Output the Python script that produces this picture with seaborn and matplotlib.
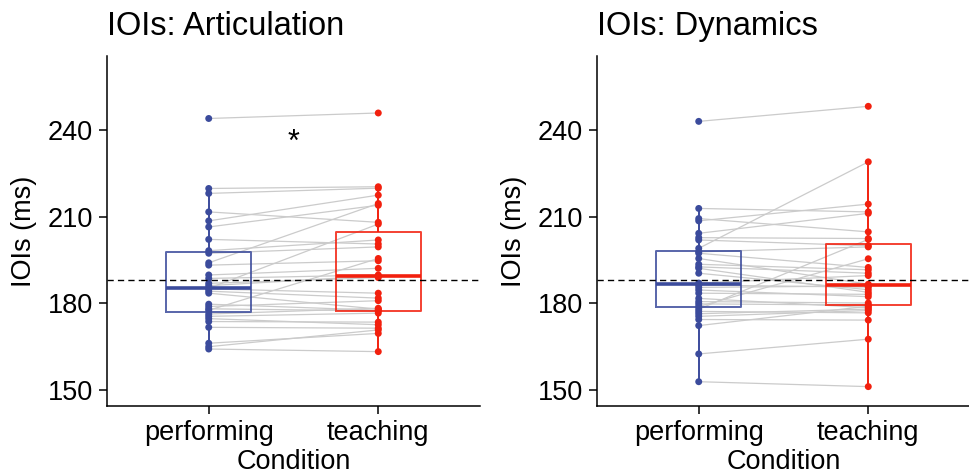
import numpy as np
import pandas as pd
import matplotlib
matplotlib.use("Agg")
import matplotlib.pyplot as plt
import seaborn as sns

# ---------------- data ----------------
conditions = ["performing", "teaching"]

art_performing = [164.2, 165.0, 166.2, 171.7, 173.7, 174.7, 175.5, 176.3, 177.6, 178.1,
                  178.9, 179.7, 183.5, 184.2, 185.0, 185.2, 186.1, 186.9, 188.6, 189.8,
                  193.2, 194.0, 197.3, 198.2, 202.1, 206.4, 208.5, 211.6, 218.0, 219.7, 243.9]
art_teaching = [163.3, 170.8, 169.6, 171.4, 173.5, 172.6, 176.6, 178.3, 195.5, 177.4,
                180.9, 177.6, 178.0, 181.8, 183.5, 207.4, 189.5, 188.9, 189.8, 192.1,
                194.7, 214.5, 199.5, 201.9, 200.5, 213.9, 217.4, 208.0, 219.8, 220.3, 245.8]

dyn_performing = [152.9, 162.5, 172.3, 174.4, 175.5, 176.4, 177.2, 178.0, 178.9, 179.8,
                  180.6, 181.7, 183.5, 184.6, 185.5, 186.3, 187.0, 190.4, 192.1, 192.6,
                  193.5, 195.5, 197.3, 197.8, 199.0, 201.9, 202.7, 204.2, 208.5, 209.3,
                  212.8, 242.9]
dyn_teaching = [151.2, 167.6, 179.0, 174.2, 177.5, 178.0, 176.7, 202.1, 195.4, 179.4,
                180.1, 178.5, 183.1, 182.3, 186.0, 185.6, 189.6, 184.7, 183.8, 190.4,
                191.6, 186.6, 192.4, 199.5, 228.9, 199.9, 202.4, 211.1, 214.3, 204.7,
                211.6, 248.1]

reference_line = 188.0
y_ticks = [150, 180, 210, 240]
titles = ["IOIs: Articulation", "IOIs: Dynamics"]
significance = ["*", ""]
significance_y = 232.6

colors = {"performing": "#3B4B9C", "teaching": "#F2200E"}


def make_df(perf, teach):
    n = len(perf)
    df = pd.DataFrame({
        "pid": list(range(n)) * 2,
        "Condition": ["performing"] * n + ["teaching"] * len(teach),
        "IOI": list(perf) + list(teach),
    })
    df["xpos"] = df["Condition"].map({c: i for i, c in enumerate(conditions)})
    return df


panels = [make_df(art_performing, art_teaching), make_df(dyn_performing, dyn_teaching)]

# ---------------- style ----------------
sns.set_theme(style="white")
plt.rcParams["font.family"] = ["Liberation Sans", "DejaVu Sans"]
plt.rcParams["axes.linewidth"] = 1.1

fig = plt.figure(figsize=(9.7, 4.76), dpi=100)
W, H = 970, 476
axes_boxes = [
    [107 / W, 1 - 406 / H, 373 / W, 350 / H],
    [597 / W, 1 - 406 / H, 373 / W, 350 / H],
]

for k, (df, box) in enumerate(zip(panels, axes_boxes)):
    ax = fig.add_axes(box)

    # paired lines
    sns.lineplot(data=df, x="xpos", y="IOI", units="pid", estimator=None,
                 color="#cbcbcb", linewidth=0.9, ax=ax, zorder=1, legend=False,
                 sort=False)

    # boxplots
    sns.boxplot(data=df, x="Condition", y="IOI", hue="Condition", order=conditions,
                hue_order=conditions, palette=colors, fill=False, width=0.5,
                showfliers=False, showcaps=False, linewidth=1.4, whis=1.5,
                medianprops={"linewidth": 2.6}, boxprops={"alpha": 0.85},
                legend=False, ax=ax)

    # points
    sns.stripplot(data=df, x="Condition", y="IOI", hue="Condition", order=conditions,
                  hue_order=conditions, palette=colors, jitter=False, size=5.0,
                  linewidth=0, legend=False, ax=ax, zorder=4)

    ax.axhline(reference_line, color="black", linestyle=(0, (4.5, 3)), linewidth=1.0,
               zorder=5)

    if significance[k]:
        ax.text(0.5, significance_y, significance[k], ha="center", va="baseline",
                fontsize=22, color="black")

    ax.set_xlim(-0.6, 1.6)
    ax.set_ylim(144.5, 265.5)
    ax.set_yticks(y_ticks)
    ax.set_xticks(range(len(conditions)))
    ax.set_xticklabels(conditions)
    ax.set_xlabel("Condition", fontsize=19.5, labelpad=2, color="black")
    ax.set_ylabel("IOIs (ms)", fontsize=19.5, labelpad=8, color="black")
    ax.set_title(titles[k], loc="left", fontsize=23.5, pad=15, color="black")
    ax.tick_params(axis="both", which="major", labelsize=19.5, length=6, width=1.1,
                   direction="out", pad=4, colors="black", left=True, bottom=True)
    for s in ["top", "right"]:
        ax.spines[s].set_visible(False)
    for s in ["left", "bottom"]:
        ax.spines[s].set_color("black")
        ax.spines[s].set_linewidth(1.1)

fig.savefig("out.png", dpi=100)
